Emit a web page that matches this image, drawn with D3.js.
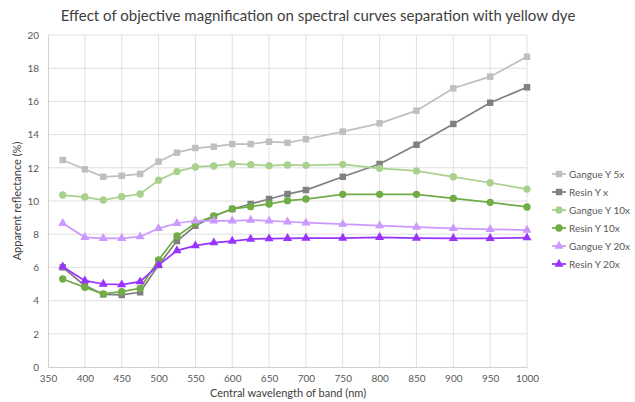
<!DOCTYPE html>
<html>
<head>
<meta charset="utf-8">
<script src="https://cdn.jsdelivr.net/npm/d3@7"></script>
<style>
  body { margin: 0; background: #fff; }
  svg text { font-family: Lato, "Open Sans", sans-serif; }
</style>
</head>
<body>
<svg id="chart" width="635" height="402"></svg>
<script>

// wavelengths of the bands (nm)
const wavelengths = [370,400,425,450,475,500,525,550,575,600,625,650,675,700,750,800,850,900,950,1000];

const gangue_5x  = [12.47,11.91,11.46,11.52,11.63,12.37,12.91,13.19,13.27,13.43,13.43,13.57,13.51,13.72,14.18,14.68,15.44,16.79,17.49,18.69];
const resin_5x   = [6.00,4.90,4.38,4.34,4.50,6.14,7.59,8.51,9.08,9.52,9.82,10.12,10.42,10.66,11.46,12.23,13.39,14.64,15.92,16.85];
const gangue_10x = [10.36,10.24,10.06,10.26,10.42,11.25,11.77,12.05,12.11,12.23,12.19,12.13,12.17,12.15,12.21,11.97,11.81,11.46,11.10,10.72];
const resin_10x  = [5.30,4.80,4.40,4.54,4.74,6.45,7.89,8.66,9.10,9.52,9.66,9.82,10.02,10.12,10.40,10.40,10.40,10.16,9.92,9.64];
const gangue_20x = [8.66,7.81,7.75,7.75,7.85,8.35,8.66,8.81,8.81,8.81,8.85,8.80,8.75,8.69,8.60,8.51,8.43,8.35,8.29,8.25];
const resin_20x  = [6.04,5.20,5.00,4.96,5.14,6.14,7.01,7.31,7.49,7.59,7.71,7.73,7.75,7.77,7.77,7.81,7.77,7.75,7.75,7.79];

const series_names = ['Gangue Y 5x','Resin Y x','Gangue Y 10x','Resin Y 10x','Gangue Y 20x','Resin Y 20x'];
const series_values = [gangue_5x, resin_5x, gangue_10x, resin_10x, gangue_20x, resin_20x];
const series_colors = ['#bfbfbf','#808080','#a9d18e','#70ad47','#cc99ff','#9933ff'];
const series_markers = ['square','square','circle','circle','triangle','triangle'];

const x_ticks = d3.range(350, 1001, 50);
const y_ticks = d3.range(0, 21, 2);

const svg = d3.select('#chart');
const plot = {left: 48, right: 527, top: 35, bottom: 367};

const x = d3.scaleLinear().domain([350,1000]).range([plot.left, plot.right]);
const y = d3.scaleLinear().domain([0,20]).range([plot.bottom, plot.top]);

// title
svg.append('text')
    .attr('x', 318).attr('y', 21)
    .attr('text-anchor','middle')
    .attr('font-size', 15)
    .attr('fill','#404040')
    .text('Effect of objective magnification on spectral curves separation with yellow dye');

// gridlines
svg.append('g').selectAll('line.vgrid')
    .data(x_ticks.slice(1))
    .enter().append('line')
        .attr('x1', d => x(d)).attr('x2', d => x(d))
        .attr('y1', plot.top).attr('y2', plot.bottom)
        .attr('stroke','#e0e0e0').attr('stroke-width',1);

svg.append('g').selectAll('line.hgrid')
    .data(y_ticks.slice(1))
    .enter().append('line')
        .attr('x1', plot.left).attr('x2', plot.right)
        .attr('y1', d => y(d)).attr('y2', d => y(d))
        .attr('stroke','#e0e0e0').attr('stroke-width',1);

// axes
const xAxis = svg.append('g')
    .attr('transform', `translate(0,${plot.bottom})`)
    .call(d3.axisBottom(x).tickValues(x_ticks).tickFormat(d3.format('d')).tickSize(0).tickPadding(8));
const yAxis = svg.append('g')
    .attr('transform', `translate(${plot.left},0)`)
    .call(d3.axisLeft(y).tickValues(y_ticks).tickSize(0).tickPadding(9));

[xAxis, yAxis].forEach(a => {
    a.select('.domain').attr('stroke','#d0d0d0');
    a.selectAll('text').attr('fill','#595959').attr('font-size',10)
        .attr('font-family','Lato, "Open Sans", sans-serif');
});

// axis titles
svg.append('text')
    .attr('x', 288).attr('y', 397)
    .attr('text-anchor','middle')
    .attr('font-size', 11).attr('fill','#404040')
    .text('Central wavelength of band (nm)');

svg.append('text')
    .attr('transform','translate(21,201) rotate(-90)')
    .attr('text-anchor','middle')
    .attr('font-size', 11).attr('fill','#404040')
    .text('Apparent reflectance (%)');

const symbolFor = function(m, size){
    const type = m === 'square' ? d3.symbolSquare : m === 'circle' ? d3.symbolCircle : d3.symbolTriangle;
    return d3.symbol().type(type).size(size)();
};

const line = d3.line()
    .x((d,i) => x(wavelengths[i]))
    .y(d => y(d));

// series
series_values.forEach((vals, s) => {
    const g = svg.append('g').attr('class','series');
    g.append('path')
        .attr('d', line(vals))
        .attr('fill','none')
        .attr('stroke', series_colors[s])
        .attr('stroke-width', 1.75);
    g.selectAll('path.marker')
        .data(vals)
        .enter().append('path')
            .attr('class','marker')
            .attr('transform', (d,i) => `translate(${x(wavelengths[i])},${y(d)})`)
            .attr('d', symbolFor(series_markers[s], series_markers[s]==='triangle' ? 36 : 42))
            .attr('fill', series_colors[s]);
});

// legend
const legend = svg.append('g').attr('transform','translate(552,174)');
series_names.forEach((name, s) => {
    const row = legend.append('g').attr('transform', `translate(0,${s*18})`);
    row.append('line')
        .attr('x1',0).attr('x2',14).attr('y1',0).attr('y2',0)
        .attr('stroke', series_colors[s]).attr('stroke-width',1.75);
    row.append('path')
        .attr('transform','translate(7,0)')
        .attr('d', symbolFor(series_markers[s], series_markers[s]==='triangle' ? 36 : 42))
        .attr('fill', series_colors[s]);
    row.append('text')
        .attr('x',17).attr('y',3.5)
        .attr('font-size',10).attr('fill','#595959')
        .text(name);
});

</script>
</body>
</html>
